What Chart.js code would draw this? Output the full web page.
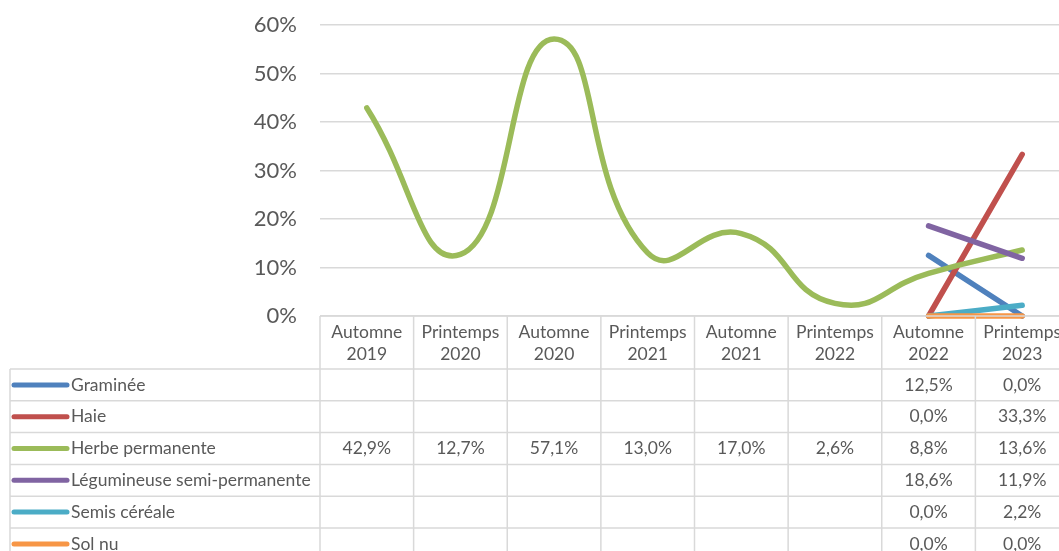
<!DOCTYPE html>
<html>
<head>
<meta charset="utf-8">
<script src="https://cdn.jsdelivr.net/npm/chart.js@4/dist/chart.umd.min.js"></script>
<style>
  html, body { margin: 0; padding: 0; background: #fff; overflow: hidden; }
  #wrap { position: relative; width: 1075px; height: 551px; }
</style>
</head>
<body>
<div id="wrap"><canvas id="chart"></canvas></div>
<script>
// periodes (2 lignes dans le tableau)
const periodes = [
  ["Automne", "2019"], ["Printemps", "2020"], ["Automne", "2020"], ["Printemps", "2021"],
  ["Automne", "2021"], ["Printemps", "2022"], ["Automne", "2022"], ["Printemps", "2023"]
];

const graminee = [null, null, null, null, null, null, 12.5, 0.0];
const haie = [null, null, null, null, null, null, 0.0, 33.3];
const herbePermanente = [42.9, 12.7, 57.1, 13.0, 17.0, 2.6, 8.8, 13.6];
const legumineuse = [null, null, null, null, null, null, 18.6, 11.9];
const semisCereale = [null, null, null, null, null, null, 0.0, 2.2];
const solNu = [null, null, null, null, null, null, 0.0, 0.0];

const yTicks = [0, 10, 20, 30, 40, 50, 60];

const series = [
  { label: "Graminée", data: graminee, color: "#4F81BD" },
  { label: "Haie", data: haie, color: "#C0504D" },
  { label: "Herbe permanente", data: herbePermanente, color: "#9BBB59" },
  { label: "Légumineuse semi-permanente", data: legumineuse, color: "#8064A2" },
  { label: "Semis céréale", data: semisCereale, color: "#4BACC6" },
  { label: "Sol nu", data: solNu, color: "#F79646" }
];

const FONT = "Lato, 'Open Sans', sans-serif";
const GRID = "#d9d9d9";
const TEXT = "#595959";

// tableau de donnees sous le graphique
const dataTable = {
  id: "dataTable",
  afterDraw(chart) {
    const ctx = chart.ctx;
    const xs = chart.scales.x;
    const area = chart.chartArea;
    const colW = (area.right - area.left) / periodes.length;
    const top = area.bottom;
    const headH = 53;
    const rowH = 31.8;
    const legendLeft = 10;
    const bodyTop = top + headH;
    const bottom = bodyTop + rowH * series.length;

    ctx.save();
    ctx.strokeStyle = GRID;
    ctx.lineWidth = 1.5;
    ctx.beginPath();
    // lignes horizontales
    ctx.moveTo(area.left, top); ctx.lineTo(area.right, top);
    for (let r = 0; r <= series.length; r++) {
      const y = bodyTop + r * rowH;
      ctx.moveTo(legendLeft, y); ctx.lineTo(area.right, y);
    }
    // lignes verticales
    ctx.moveTo(legendLeft, bodyTop); ctx.lineTo(legendLeft, bottom);
    for (let c = 0; c <= periodes.length; c++) {
      const x = area.left + c * colW;
      ctx.moveTo(x, top); ctx.lineTo(x, bottom);
    }
    ctx.stroke();

    ctx.fillStyle = TEXT;
    ctx.font = "17.5px " + FONT;
    ctx.textAlign = "center";
    ctx.textBaseline = "middle";
    periodes.forEach((p, i) => {
      const x = xs.getPixelForValue(i);
      ctx.fillText(p[0], x, top + 16);
      ctx.fillText(p[1], x, top + 38);
    });

    series.forEach((s, r) => {
      const yc = bodyTop + r * rowH + rowH / 2;
      ctx.strokeStyle = s.color;
      ctx.lineWidth = 5;
      ctx.lineCap = "round";
      ctx.beginPath();
      ctx.moveTo(14, yc); ctx.lineTo(67, yc);
      ctx.stroke();
      ctx.textAlign = "left";
      ctx.fillText(s.label, 71, yc);
      ctx.textAlign = "center";
      s.data.forEach((v, i) => {
        if (v === null) return;
        ctx.fillText(v.toFixed(1).replace(".", ",") + "%", xs.getPixelForValue(i), yc);
      });
    });
    ctx.restore();
  }
};

new Chart(document.getElementById("chart"), {
  type: "line",
  data: {
    labels: periodes.map(p => p.join(" ")),
    datasets: series.map((s, i) => ({
      label: s.label,
      data: s.data,
      borderColor: s.color,
      backgroundColor: s.color,
      borderWidth: 5.5,
      borderCapStyle: "round",
      pointRadius: 0,
      tension: 0.5,
      clip: false,
      order: series.length - i
    }))
  },
  options: {
    responsive: true,
    maintainAspectRatio: false,
    animation: false,
    layout: { padding: { left: 0, top: 25, right: 6, bottom: 235 } },
    plugins: { legend: { display: false }, tooltip: { enabled: false } },
    scales: {
      x: { display: false, offset: true },
      y: {
        min: 0,
        max: 60,
        afterFit: scale => {
          scale.width = 320;
          scale.paddingTop = 0;
          scale.paddingBottom = 0;
        },
        afterBuildTicks: scale => { scale.ticks = yTicks.map(v => ({ value: v })); },
        ticks: {
          padding: 23,
          color: TEXT,
          font: { family: FONT, size: 22 },
          callback: v => v + "%"
        },
        grid: { color: GRID, lineWidth: 1.5, drawTicks: false },
        border: { display: false }
      }
    }
  },
  plugins: [dataTable]
});
</script>
</body>
</html>
